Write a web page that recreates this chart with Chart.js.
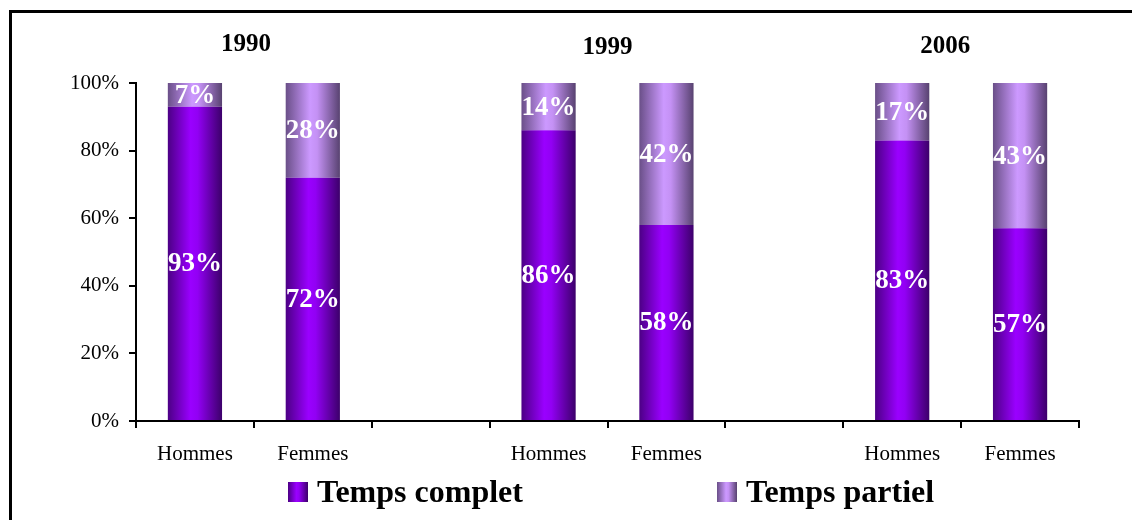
<!DOCTYPE html>
<html lang="fr">
<head>
<meta charset="utf-8">
<title>Temps complet / Temps partiel</title>
<script src="https://cdn.jsdelivr.net/npm/chart.js@4/dist/chart.umd.min.js"></script>
<style>
  html, body { margin: 0; padding: 0; background: #fff; overflow: hidden; }
  #wrap { position: relative; width: 1132px; height: 520px; overflow: hidden; }
  #frame { position: absolute; left: 9px; top: 10px; width: 1200px; height: 600px;
           border: 3px solid #000; box-sizing: border-box; pointer-events: none; }
  canvas { position: absolute; left: 0; top: 0; }
</style>
</head>
<body>
<div id="wrap">
  <canvas id="c" width="1132" height="520"></canvas>
  <div id="frame"></div>
</div>
<script>
// Categories along the x axis (empty slots separate the three years)
const categories = ['Hommes', 'Femmes', '', 'Hommes', 'Femmes', '', 'Hommes', 'Femmes'];
// Year headings, one per pair of bars
const years = ['1990', '1999', '2006'];
const yearBars = [[0, 1], [3, 4], [6, 7]];
// Shares in percent
const tempsComplet = [93, 72, null, 86, 58, null, 83, 57];
const tempsPartiel = [7, 28, null, 14, 42, null, 17, 43];
const seriesNames = ['Temps complet', 'Temps partiel'];
// Y axis ticks
const yTicks = [0, 20, 40, 60, 80, 100];

const SERIF = "'Liberation Serif', 'Times New Roman', serif";

// Cylinder-like horizontal shading for each series
const shades = [
  [[0, '#4c0085'], [0.42, '#9a00ff'], [0.55, '#9200f4'], [1, '#3c006a']],
  [[0, '#6a4f88'], [0.45, '#cc99ff'], [0.58, '#c491f4'], [1, '#584270']]
];

function shadeFill(c2d, x0, x1, stops) {
  const g = c2d.createLinearGradient(x0, 0, x1, 0);
  stops.forEach(s => g.addColorStop(s[0], s[1]));
  return g;
}

function barFill(seriesIdx) {
  return (ctx) => {
    const chart = ctx.chart;
    const area = chart.chartArea;
    const xs = chart.scales.x;
    if (!area || !xs || ctx.dataIndex === undefined) return shades[seriesIdx][1][1];
    const cx = xs.getPixelForValue(ctx.dataIndex);
    const half = (area.width / categories.length) * 0.46 / 2;
    return shadeFill(chart.ctx, cx - half, cx + half, shades[seriesIdx]);
  };
}

// Percent labels centred in each segment
const valueLabels = {
  id: 'valueLabels',
  afterDatasetsDraw(chart) {
    const c2d = chart.ctx;
    c2d.save();
    c2d.font = 'bold 27px ' + SERIF;
    c2d.fillStyle = '#fff';
    c2d.textAlign = 'center';
    c2d.textBaseline = 'middle';
    chart.data.datasets.forEach((ds, di) => {
      const meta = chart.getDatasetMeta(di);
      meta.data.forEach((el, i) => {
        const v = ds.data[i];
        if (v === null || v === undefined) return;
        const p = el.getProps(['x', 'y', 'base'], true);
        c2d.fillText(v + '%', p.x, (p.y + p.base) / 2 + 1);
      });
    });
    c2d.restore();
  }
};

// Year headings above each pair of bars
const yearHeadings = {
  id: 'yearHeadings',
  afterDraw(chart) {
    const c2d = chart.ctx;
    const xs = chart.scales.x;
    const shiftX = [-8, 0, -16];
    const shiftY = [-2, 1, 0];
    c2d.save();
    c2d.font = 'bold 25px ' + SERIF;
    c2d.fillStyle = '#000';
    c2d.textAlign = 'center';
    c2d.textBaseline = 'middle';
    years.forEach((y, k) => {
      const [a, b] = yearBars[k];
      const x = (xs.getPixelForValue(a) + xs.getPixelForValue(b)) / 2 + shiftX[k];
      c2d.fillText(y, x, 47 + shiftY[k]);
    });
    c2d.restore();
  }
};

// Legend row under the axis labels
const legendRow = {
  id: 'legendRow',
  afterDraw(chart) {
    const c2d = chart.ctx;
    const starts = [288, 717];
    const box = 20, top = 482;
    c2d.save();
    c2d.font = 'bold 32px ' + SERIF;
    c2d.fillStyle = '#000';
    c2d.textAlign = 'left';
    c2d.textBaseline = 'alphabetic';
    seriesNames.forEach((name, k) => {
      const x = starts[k];
      c2d.fillStyle = shadeFill(c2d, x, x + box, shades[k]);
      c2d.fillRect(x, top, box, box);
      c2d.fillStyle = '#000';
      c2d.fillText(name, x + box + 9, top + box);
    });
    c2d.restore();
  }
};

new Chart(document.getElementById('c'), {
  type: 'bar',
  data: {
    labels: categories,
    datasets: [
      { label: seriesNames[0], data: tempsComplet, backgroundColor: barFill(0), borderWidth: 0 },
      { label: seriesNames[1], data: tempsPartiel, backgroundColor: barFill(1), borderWidth: 0 }
    ]
  },
  options: {
    responsive: false,
    animation: false,
    devicePixelRatio: 1,
    datasets: { bar: { categoryPercentage: 1, barPercentage: 0.46 } },
    layout: { padding: { left: 0, right: 53, top: 83, bottom: 0 } },
    plugins: { legend: { display: false }, tooltip: { enabled: false } },
    scales: {
      x: {
        stacked: true,
        grid: { offset: true, drawOnChartArea: false, color: '#000', lineWidth: 2, tickLength: 7 },
        border: { color: '#000', width: 2 },
        ticks: { color: '#000', font: { family: SERIF, size: 21 }, padding: 14, maxRotation: 0, autoSkip: false },
        afterFit(s) { s.height = 99; }
      },
      y: {
        stacked: true,
        min: 0,
        max: 100,
        afterBuildTicks(s) { s.ticks = yTicks.map(v => ({ value: v })); },
        grid: { drawOnChartArea: false, color: '#000', lineWidth: 2, tickLength: 7 },
        border: { color: '#000', width: 2 },
        ticks: { color: '#000', font: { family: SERIF, size: 21 }, padding: 10, callback: v => v + '%' },
        afterFit(s) { s.width = 136; }
      }
    }
  },
  plugins: [valueLabels, yearHeadings, legendRow]
});
</script>
</body>
</html>
